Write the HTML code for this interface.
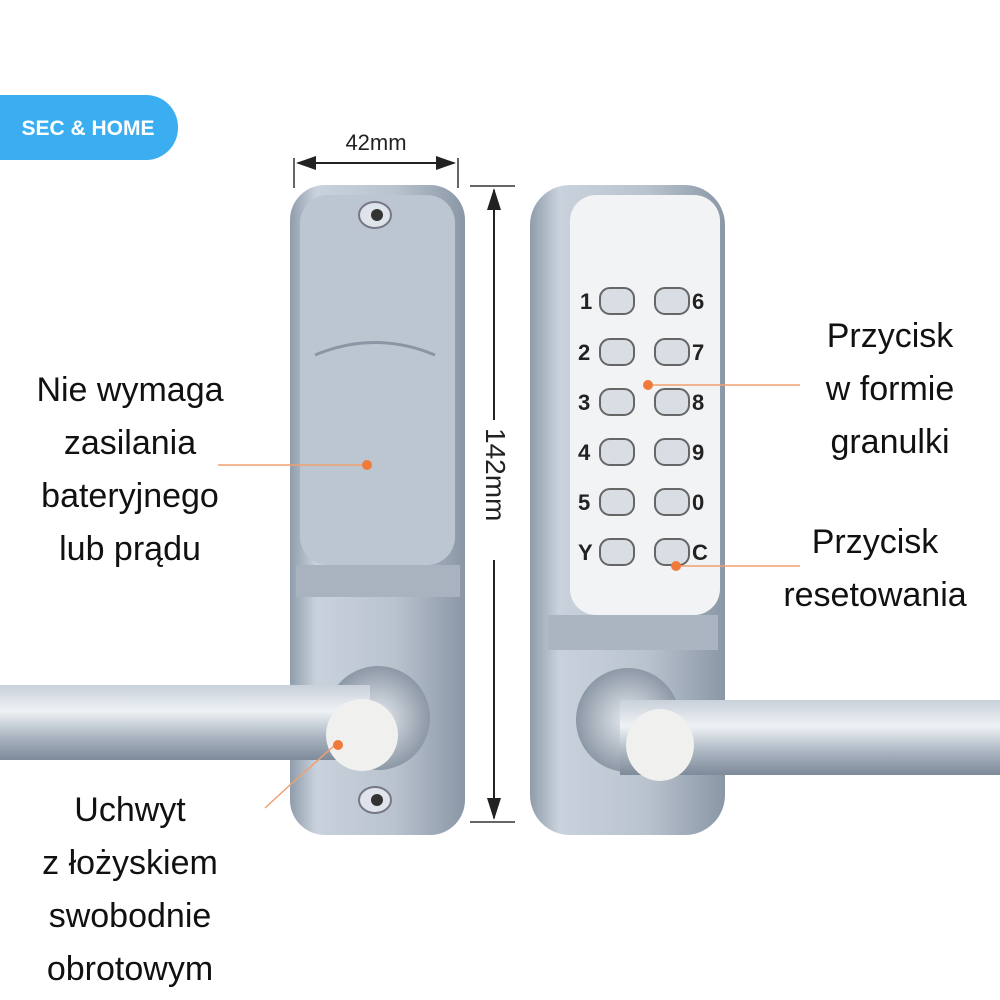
<!DOCTYPE html>
<html><head><meta charset="utf-8"><style>
html,body{margin:0;padding:0;background:#fff;}
body{width:1000px;height:1000px;position:relative;overflow:hidden;font-family:"Liberation Sans",sans-serif;}
.lbl{position:absolute;font-size:34px;color:#111;text-align:center;line-height:53px;}
</style></head><body>
<svg width="1000" height="1000" style="position:absolute;left:0;top:0">
<defs>
<linearGradient id="pl" x1="0" x2="1" y1="0" y2="0">
<stop offset="0" stop-color="#8f9cab"/><stop offset="0.15" stop-color="#c9d2dc"/><stop offset="0.6" stop-color="#b9c3ce"/><stop offset="1" stop-color="#8a97a6"/></linearGradient>
<linearGradient id="hd" x1="0" x2="0" y1="0" y2="1">
<stop offset="0" stop-color="#c8d0d9"/><stop offset="0.35" stop-color="#eef2f5"/><stop offset="0.7" stop-color="#a9b4c0"/><stop offset="1" stop-color="#7d8a99"/></linearGradient>
<radialGradient id="rg"><stop offset="0" stop-color="#e6eaef"/><stop offset="1" stop-color="#8c98a6"/></radialGradient>
</defs>
<!-- badge -->
<rect x="-40" y="95" width="218" height="65" rx="32" fill="#3aaef0"/>
<text x="88" y="135" font-size="21" font-weight="bold" fill="#fff" text-anchor="middle" font-family="Liberation Sans">SEC &amp; HOME</text>
<!-- dims -->
<line x1="294" y1="158" x2="294" y2="188" stroke="#333" stroke-width="1.5"/>
<line x1="458" y1="158" x2="458" y2="188" stroke="#333" stroke-width="1.5"/>
<line x1="298" y1="163" x2="454" y2="163" stroke="#222" stroke-width="2"/>
<polygon points="296,163 316,156 316,170" fill="#222"/><polygon points="456,163 436,156 436,170" fill="#222"/>
<text x="376" y="150" font-size="22" text-anchor="middle" fill="#222" font-family="Liberation Sans">42mm</text>
<line x1="470" y1="186" x2="515" y2="186" stroke="#333" stroke-width="1.5"/>
<line x1="470" y1="822" x2="515" y2="822" stroke="#333" stroke-width="1.5"/>
<line x1="494" y1="190" x2="494" y2="818" stroke="#222" stroke-width="2"/>
<polygon points="494,188 487,210 501,210" fill="#222"/><polygon points="494,820 487,798 501,798" fill="#222"/>
<rect x="482" y="420" width="30" height="140" fill="#fff"/>
<text x="0" y="0" font-size="28" fill="#222" font-family="Liberation Sans" transform="translate(486,428) rotate(90)">142mm</text>
<!-- left plate -->
<rect x="290" y="185" width="175" height="650" rx="35" fill="url(#pl)"/>
<rect x="300" y="195" width="155" height="370" rx="28" fill="#bcc6d1"/>
<rect x="296" y="565" width="164" height="32" fill="#a8b3bf"/>
<ellipse cx="375" cy="215" rx="16" ry="13" fill="#dfe4ea" stroke="#778" stroke-width="2"/><circle cx="377" cy="215" r="6" fill="#333"/>
<ellipse cx="375" cy="800" rx="16" ry="13" fill="#dfe4ea" stroke="#778" stroke-width="2"/><circle cx="377" cy="800" r="6" fill="#333"/>
<path d="M315 355 Q375 330 435 355" stroke="#8a96a4" stroke-width="3" fill="none"/>
<circle cx="378" cy="718" r="52" fill="url(#rg)"/>
<rect x="0" y="685" width="370" height="75" fill="url(#hd)"/>
<ellipse cx="362" cy="735" rx="36" ry="36" fill="#f0f0ee"/>
<!-- right plate -->
<rect x="530" y="185" width="195" height="650" rx="40" fill="url(#pl)"/>
<rect x="570" y="195" width="150" height="420" rx="26" fill="#f1f3f5"/>
<rect x="548" y="615" width="170" height="35" fill="#aab5c1"/>
<circle cx="628" cy="720" r="52" fill="url(#rg)"/>
<rect x="620" y="700" width="380" height="75" fill="url(#hd)"/>
<ellipse cx="660" cy="745" rx="34" ry="36" fill="#f0f0ee"/>
<!-- keys -->
<g fill="#d9dee4" stroke="#666" stroke-width="2">
<rect x="600" y="288" width="34" height="26" rx="10"/><rect x="655" y="288" width="34" height="26" rx="10"/>
<rect x="600" y="339" width="34" height="26" rx="10"/><rect x="655" y="339" width="34" height="26" rx="10"/>
<rect x="600" y="389" width="34" height="26" rx="10"/><rect x="655" y="389" width="34" height="26" rx="10"/>
<rect x="600" y="439" width="34" height="26" rx="10"/><rect x="655" y="439" width="34" height="26" rx="10"/>
<rect x="600" y="489" width="34" height="26" rx="10"/><rect x="655" y="489" width="34" height="26" rx="10"/>
<rect x="600" y="539" width="34" height="26" rx="10"/><rect x="655" y="539" width="34" height="26" rx="10"/>
</g>
<g font-size="22" fill="#222" font-family="Liberation Sans" font-weight="bold">
<text x="580" y="309">1</text><text x="692" y="309">6</text>
<text x="578" y="360">2</text><text x="692" y="360">7</text>
<text x="578" y="410">3</text><text x="692" y="410">8</text>
<text x="578" y="460">4</text><text x="692" y="460">9</text>
<text x="578" y="510">5</text><text x="692" y="510">0</text>
<text x="578" y="560">Y</text><text x="692" y="560">C</text>
</g>
<!-- callouts -->
<g stroke="#f0a070" stroke-width="1.5" fill="none">
<line x1="218" y1="465" x2="366" y2="465"/>
<line x1="648" y1="385" x2="800" y2="385"/>
<line x1="676" y1="566" x2="800" y2="566"/>
<polyline points="265,808 290,785 335,745"/>
</g>
<g fill="#f07a3a"><circle cx="367" cy="465" r="5"/><circle cx="648" cy="385" r="5"/><circle cx="676" cy="566" r="5"/><circle cx="338" cy="745" r="5"/></g>
</svg>
<div class="lbl" style="left:10px;top:364px;width:240px">Nie wymaga<br>zasilania<br>bateryjnego<br>lub prądu</div>
<div class="lbl" style="left:790px;top:310px;width:200px">Przycisk<br>w formie<br>granulki</div>
<div class="lbl" style="left:755px;top:516px;width:240px">Przycisk<br>resetowania</div>
<div class="lbl" style="left:10px;top:784px;width:240px">Uchwyt<br>z łożyskiem<br>swobodnie<br>obrotowym</div>
</body></html>
